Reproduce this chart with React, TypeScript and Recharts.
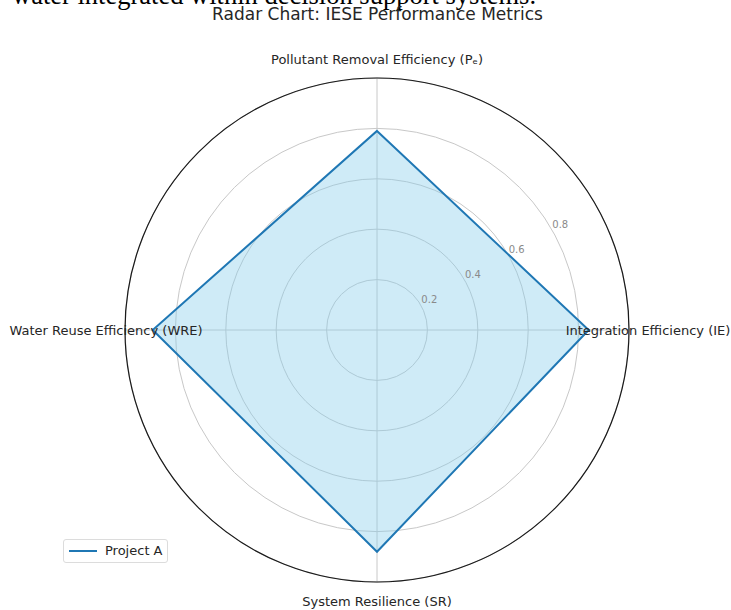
import React from 'react';
import { RadarChart, Radar, PolarGrid, PolarAngleAxis, PolarRadiusAxis } from 'recharts';

const categories = [
  'Pollutant Removal Efficiency (Pₑ)',
  'Integration Efficiency (IE)',
  'System Resilience (SR)',
  'Water Reuse Efficiency (WRE)',
];
const projectA = [0.79, 0.84, 0.88, 0.89];
const radiusTicks = [0, 0.2, 0.4, 0.6, 0.8, 1.0];
const radiusLabels = [0.2, 0.4, 0.6, 0.8];
const seriesName = 'Project A';

const data = categories.map((c, i) => ({ metric: c, a: projectA[i] }));

const W = 731;
const H = 610;
const CX = 377;
const CY = 330;
const R = 252;
const LABEL_R = 271;
const DOMAIN_MAX = 1;
const RLABEL_ANGLE = 30;
const FONT = '"DejaVu Sans", Verdana, sans-serif';

const rScale = (v: number) => (v / DOMAIN_MAX) * R;

const renderAngleTick = (props: any) => {
  const { x, y, payload } = props;
  const dx = x - CX;
  const dy = y - CY;
  const len = Math.sqrt(dx * dx + dy * dy) || 1;
  const tx = CX + (dx / len) * LABEL_R;
  const ty = CY + (dy / len) * LABEL_R;
  return (
    <text key={`a-${payload.value}`} x={tx} y={ty} textAnchor="middle" dominantBaseline="central" fontSize={13} fill="#262626" fontFamily={FONT}>
      {payload.value}
    </text>
  );
};

export default function App() {
  const ang = (RLABEL_ANGLE * Math.PI) / 180;
  return (
    <div style={{ position: 'absolute', left: 0, top: 0, width: W, height: H, overflow: 'hidden', background: '#fff' }}>
      <div style={{ position: 'absolute', left: 12, top: -18, fontFamily: '"Liberation Serif", "Times New Roman", serif', fontSize: 26.5, lineHeight: '26.5px', color: '#000', whiteSpace: 'nowrap' }}>
        water integrated within decision support systems.
      </div>
      <div style={{ position: 'absolute', left: 0, top: 4, width: 755, textAlign: 'center', fontFamily: FONT, fontSize: 17, lineHeight: '20px', color: '#262626', whiteSpace: 'nowrap' }}>
        Radar Chart: IESE Performance Metrics
      </div>
      <div style={{ position: 'absolute', left: 0, top: 0 }}>
        <RadarChart width={W} height={H} data={data} cx={CX} cy={CY} outerRadius={R} startAngle={90} endAngle={-270} margin={{ top: 0, right: 0, bottom: 0, left: 0 }}>
          <PolarGrid gridType="circle" stroke="#c8c8c8" strokeWidth={1} polarRadius={radiusTicks.map(rScale)} />
          <PolarAngleAxis dataKey="metric" tick={renderAngleTick} tickLine={false} axisLine={false} />
          <PolarRadiusAxis angle={RLABEL_ANGLE} domain={[0, DOMAIN_MAX]} tick={false} axisLine={false} tickLine={false} />
          <Radar name={seriesName} dataKey="a" stroke="#1f77b4" strokeWidth={2} fill="#87ceeb" fillOpacity={0.4} isAnimationActive={false} dot={false} />
        </RadarChart>
      </div>
      <svg width={W} height={H} style={{ position: 'absolute', left: 0, top: 0, pointerEvents: 'none' }}>
        <circle cx={CX} cy={CY} r={rScale(DOMAIN_MAX)} fill="none" stroke="#1a1a1a" strokeWidth={1.2} />
        {radiusLabels.map((v) => {
          const rr = rScale(v) + 10;
          return (
            <text key={v} x={CX + Math.cos(ang) * rr} y={CY - Math.sin(ang) * rr} textAnchor="middle" dominantBaseline="central" fontSize={10} fill="#8a8a8a" fontFamily={FONT}>
              {v.toFixed(1)}
            </text>
          );
        })}
      </svg>
      <div style={{ position: 'absolute', left: 63, top: 539, width: 105, height: 24, border: '1px solid #dcdcdc', borderRadius: 3, background: '#fff', boxSizing: 'border-box' }}>
        <svg width={34} height={22} style={{ position: 'absolute', left: 4, top: 0 }}>
          <line x1={1} y1={11} x2={29} y2={11} stroke="#1f77b4" strokeWidth={2} />
        </svg>
        <span style={{ position: 'absolute', left: 41, top: 2, fontFamily: FONT, fontSize: 13, lineHeight: '18px', color: '#262626', whiteSpace: 'nowrap' }}>{seriesName}</span>
      </div>
    </div>
  );
}
